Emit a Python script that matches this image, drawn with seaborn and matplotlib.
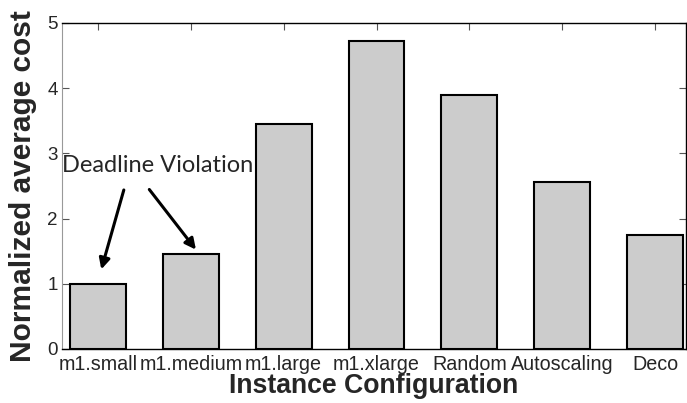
import matplotlib
matplotlib.use("Agg")
import matplotlib.pyplot as plt
import pandas as pd
import seaborn as sns

configs = ["m1.small", "m1.medium", "m1.large", "m1.xlarge", "Random", "Autoscaling", "Deco"]
norm_cost = [1.0, 1.45, 3.45, 4.73, 3.89, 2.56, 1.75]

df = pd.DataFrame({"config": configs, "cost": norm_cost})

sns.set_style("white")
plt.rcParams["font.family"] = ["Liberation Sans", "DejaVu Sans"]

fig = plt.figure(figsize=(6.87, 4.03), dpi=100)
ax = fig.add_axes([0.090, 0.134, 0.908, 0.809])

sns.barplot(data=df, x="config", y="cost", color="#cccccc", saturation=1,
            edgecolor="black", linewidth=1.5, width=0.6, ax=ax)

ax.set_xlim(-0.39, 6.33)
ax.set_ylim(0, 5)
ax.set_yticks(range(0, 6))
ax.tick_params(axis="both", direction="in", length=5, width=0.8, color="#555555", pad=3)
ax.tick_params(axis="x", bottom=False, top=True, labelsize=14.2, pad=4)
ax.tick_params(axis="y", left=True, right=True, labelsize=13.5)
for side in ["top", "bottom", "right"]:
    ax.spines[side].set_color("black")
    ax.spines[side].set_linewidth(1.0)
ax.spines["left"].set_color("#999999")

ax.set_xlabel("Instance Configuration", fontsize=19.2, fontweight="bold")
ax.set_ylabel("Normalized average cost", fontsize=21.5, fontweight="bold")
ax.xaxis.set_label_coords(0.5, -0.075)
ax.yaxis.set_label_coords(-0.04, 0.5)

# annotation for the two configs that miss the deadline
ax.text(-0.39, 2.82, "Deadline Violation", fontsize=17, family=["Lato", "DejaVu Sans"],
        va="center", ha="left")
ax.annotate("", xy=(0.027, 1.18), xytext=(0.286, 2.48),
            arrowprops=dict(arrowstyle="-|>", color="black", lw=2.2, mutation_scale=16))
ax.annotate("", xy=(1.073, 1.49), xytext=(0.534, 2.48),
            arrowprops=dict(arrowstyle="-|>", color="black", lw=2.2, mutation_scale=16))

fig.savefig("out.png", dpi=100)
